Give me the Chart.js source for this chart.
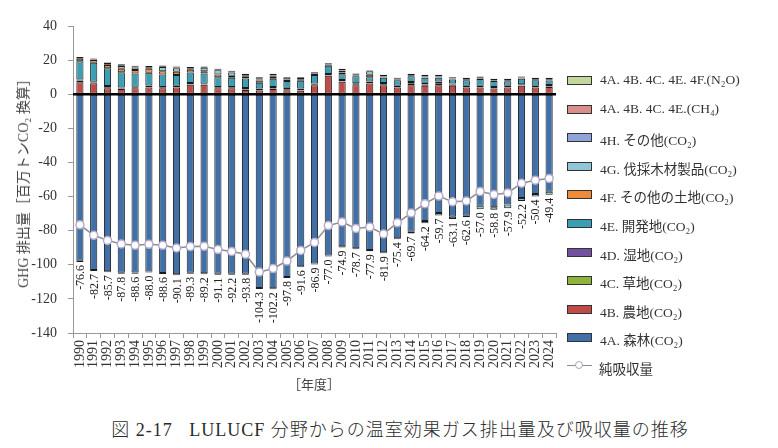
<!DOCTYPE html>
<html><head><meta charset="utf-8">
<script src="https://cdn.jsdelivr.net/npm/chart.js@4.4.1/dist/chart.umd.min.js"></script>
<style>
html,body{margin:0;padding:0;background:#fff;}
body{width:778px;height:448px;position:relative;overflow:hidden;font-family:"Liberation Serif","Noto Sans CJK JP",serif;color:#333;}
#box{position:absolute;left:0;top:0;width:568px;height:400px;}
#ytitle{position:absolute;left:22px;top:180px;transform:translate(-50%,-50%) rotate(-90deg);white-space:nowrap;font-size:14px;color:#444;}
#xtitle{position:absolute;left:314px;top:383px;transform:translate(-50%,-50%);white-space:nowrap;font-size:13px;color:#444;}
#caption{position:absolute;left:400px;top:428px;transform:translate(-50%,-50%);white-space:nowrap;font-size:18px;font-weight:300;color:#2a2a2a;letter-spacing:1px;}
#legend{position:absolute;left:567px;top:72px;}
.li{height:28.6px;display:flex;align-items:flex-start;font-size:13.5px;color:#333;white-space:nowrap;}
.sw{width:23px;height:7px;border:1px solid #333;margin-right:8px;margin-top:4px;box-sizing:content-box;}
.ln{width:25px;height:9px;margin-right:7px;margin-top:3px;position:relative;}
.ln:before{content:"";position:absolute;left:0;right:0;top:4px;height:1.5px;background:#8c8c8c;}
.ln:after{content:"";position:absolute;left:8px;top:0.5px;width:6px;height:6px;border-radius:50%;background:#fff;border:1.3px solid #a9a3c0;}
</style></head>
<body>
<div id="box"><canvas id="c"></canvas></div>
<div id="ytitle">GHG 排出量［百万トンCO₂ 換算］</div>
<div id="xtitle">［年度］</div>
<div id="caption">図 2-17&nbsp;&nbsp; LULUCF 分野からの温室効果ガス排出量及び吸収量の推移</div>
<div id="legend"></div>
<script>
const years = ['1990','1991','1992','1993','1994','1995','1996','1997','1998','1999','2000','2001','2002','2003','2004','2005','2006','2007','2008','2009','2010','2011','2012','2013','2014','2015','2016','2017','2018','2019','2020','2021','2022','2023','2024'];
const net = [-76.6,-82.7,-85.7,-87.8,-88.6,-88.0,-88.6,-90.1,-89.3,-89.2,-91.1,-92.2,-93.8,-104.3,-102.2,-97.8,-91.6,-86.9,-77.0,-74.9,-78.7,-77.9,-81.9,-75.4,-69.7,-64.2,-59.7,-63.1,-62.6,-57.0,-58.8,-57.9,-52.2,-50.4,-49.4];
const forest = [-97.7,-103.0,-103.8,-104.7,-104.6,-104.0,-104.8,-105.6,-104.7,-104.9,-105.3,-105.2,-105.2,-113.6,-113.7,-107.2,-100.9,-99.2,-94.6,-89.2,-90.3,-91.4,-92.7,-84.5,-80.7,-74.3,-69.6,-71.9,-71.2,-65.4,-66.3,-64.6,-60.8,-58.5,-57.2];
const cropland = [7.0,6.5,3.5,3.0,3.5,4.0,3.5,4.0,5.5,5.5,3.5,3.5,2.5,2.2,3.0,2.3,2.0,5.3,10.8,7.3,5.3,6.3,5.3,3.9,5.3,4.9,5.3,4.9,3.9,3.9,3.3,3.9,4.9,3.9,4.3];
const grassland = [1.0,0.3,0.3,0.3,0.3,0.3,0.3,0.3,0.3,0.3,0.3,0.3,0.3,0.3,0.3,0.3,0.3,0.3,0.3,0.3,0.3,0.8,0.3,0.3,1.2,0.8,1.2,0.8,0.3,0.3,0.3,0.3,0.3,0.3,0.3];
const wetlands = [0.6,0.5,1.0,0.6,0.6,0.8,0.4,0.6,0.8,0.4,0.5,0.5,0.9,0.9,1.0,1.2,1.1,0.7,0.7,0.8,0.8,0.3,1.0,0.7,0.7,1.0,1.0,0.6,0.7,0.8,0.6,0.7,0.6,0.7,0.8];
const settlements = [10.8,11.2,10.4,9.0,7.8,7.5,7.3,6.3,6.2,6.0,5.7,5.3,5.5,3.3,4.8,4.0,4.5,5.0,4.9,3.3,4.1,2.5,3.0,3.3,3.3,2.9,2.2,2.4,3.3,3.9,3.5,2.7,3.3,3.3,2.7];
const otherLand = [1.4,1.5,2.0,2.0,2.0,2.3,2.0,2.0,1.5,1.3,1.5,1.2,1.0,1.4,1.0,0.5,0.5,0.5,0.4,1.0,0.5,1.5,0.4,0.4,0.4,0.4,0.3,0.3,0.3,0.3,0.3,0.3,0.3,0.3,0.3];
const hwp = [null,null,null,1.7,1.5,0.5,2.5,2.0,0.5,2.0,2.5,2.0,0.5,0.5,0.5,null,null,null,null,1.0,null,2.0,null,null,-1.0,-1.3,-1.5,-1.2,-1.0,-2.0,-1.5,-2.3,-1.8,-1.5,-1.8];
const otherCO2 = [-0.6,-0.6,-0.6,-0.6,-0.6,-0.6,-0.6,-0.6,-0.6,-0.6,-0.6,-0.6,-0.6,-0.6,-0.6,-0.6,-0.6,-0.6,-0.6,-0.6,-0.6,-0.6,-0.6,-0.6,null,null,null,null,null,null,null,null,null,null,null];
const ch4 = [0.4,0.4,0.4,0.4,0.4,0.4,0.4,0.4,0.4,0.4,0.4,0.4,0.4,0.4,0.4,0.4,0.4,0.4,0.4,0.4,0.4,0.4,0.4,0.4,0.4,0.4,0.4,0.4,0.4,0.4,0.4,0.4,0.4,0.4,0.4];
const n2o = [0.6,0.5,1.0,0.6,0.6,0.8,0.4,0.6,0.8,0.4,0.5,0.5,0.9,0.9,1.0,1.2,1.1,0.7,0.7,0.8,0.8,0.3,1.0,0.7,0.7,1.0,1.0,0.6,0.7,0.8,0.6,0.7,0.6,0.7,0.8];
const yTicks = [40,20,0,-20,-40,-60,-80,-100,-120,-140];

const barDefs = [
  ['4A. 森林(CO₂)', forest, '#4170A8'],
  ['4B. 農地(CO₂)', cropland, '#BE4B48'],
  ['4C. 草地(CO₂)', grassland, '#8EB33B'],
  ['4D. 湿地(CO₂)', wetlands, '#7351A0'],
  ['4E. 開発地(CO₂)', settlements, '#3A9EB5'],
  ['4F. その他の土地(CO₂)', otherLand, '#EE8B3A'],
  ['4G. 伐採木材製品(CO₂)', hwp, '#8FC6D8'],
  ['4H. その他(CO₂)', otherCO2, '#8FA3D8'],
  ['4A. 4B. 4C. 4E.(CH₄)', ch4, '#DA8E8C'],
  ['4A. 4B. 4C. 4E. 4F.(N₂O)', n2o, '#C3D69B']
];
const datasets = barDefs.map(([label,data,color])=>({
  type:'bar', label, data, backgroundColor:color, borderColor:'#1a1a1a', borderWidth:1,
  borderSkipped:false, stack:'lulucf', order:1, barPercentage:0.52, categoryPercentage:1.0
}));
datasets.push({
  type:'line', label:'純吸収量', data:net, stack:'net', order:0,
  borderColor:'#8c8c8c', borderWidth:1.5, tension:0,
  pointRadius:4, pointBackgroundColor:'#ffffff', pointBorderColor:'#b3acd0', pointBorderWidth:1.5
});

const lg = document.getElementById('legend');
barDefs.slice().reverse().forEach(([label,,color])=>{
  const d=document.createElement('div'); d.className='li';
  d.innerHTML='<span class="sw" style="background:'+color+'"></span><span>'+label+'</span>';
  lg.appendChild(d);
});
{ const d=document.createElement('div'); d.className='li';
  d.innerHTML='<span class="ln"></span><span>純吸収量</span>'; lg.appendChild(d); }

const zeroLine = {
  id:'zeroLine',
  afterDatasetsDraw(chart){
    const {ctx, chartArea, scales:{y}} = chart;
    const py = y.getPixelForValue(0);
    ctx.save(); ctx.strokeStyle='#000'; ctx.lineWidth=2.5;
    ctx.beginPath(); ctx.moveTo(chartArea.left, py); ctx.lineTo(chartArea.right, py); ctx.stroke();
    ctx.restore();
  }
};
const netLabels = {
  id:'netLabels',
  afterDatasetsDraw(chart){
    const {ctx, scales:{x,y}} = chart;
    ctx.save();
    ctx.font = '12px "Liberation Serif", serif';
    ctx.fillStyle = '#222'; ctx.textAlign='right'; ctx.textBaseline='middle';
    years.forEach((yr,i)=>{
      let neg=0;
      chart.data.datasets.forEach(ds=>{ if(ds.type==='bar'){ const v=ds.data[i]; if(v!=null && v<0) neg+=v; } });
      const px=x.getPixelForValue(i)+1, py=y.getPixelForValue(neg)+3;
      ctx.save(); ctx.translate(px,py); ctx.rotate(-Math.PI/2); ctx.fillText(net[i].toFixed(1),0,0); ctx.restore();
    });
    ctx.restore();
  }
};

new Chart(document.getElementById('c'), {
  data:{ labels:years, datasets },
  options:{
    responsive:true, maintainAspectRatio:false, animation:false,
    layout:{ padding:{ top:26, right:4, left:0, bottom:0 } },
    plugins:{ legend:{display:false}, tooltip:{enabled:false} },
    scales:{
      x:{ stacked:true, offset:true,
        grid:{ drawOnChartArea:false, drawTicks:true, tickLength:5, color:'#999', offset:true },
        border:{ display:true, color:'#999' },
        ticks:{ autoSkip:false, minRotation:90, maxRotation:90, padding:2, color:'#333',
          font:{ family:'"Liberation Serif", serif', size:14 } },
        afterFit(s){ s.height = 67; }
      },
      y:{ stacked:true, min:-140, max:40,
        afterBuildTicks(s){ s.ticks = yTicks.map(v=>({value:v})); },
        grid:{ drawOnChartArea:false, drawTicks:true, tickLength:5, color:'#999' },
        border:{ display:true, color:'#999' },
        ticks:{ padding:11, color:'#333', font:{ family:'"Liberation Serif", serif', size:14 } },
        afterFit(s){ s.width = 73; }
      }
    }
  },
  plugins:[zeroLine, netLabels]
});
</script>
</body></html>
